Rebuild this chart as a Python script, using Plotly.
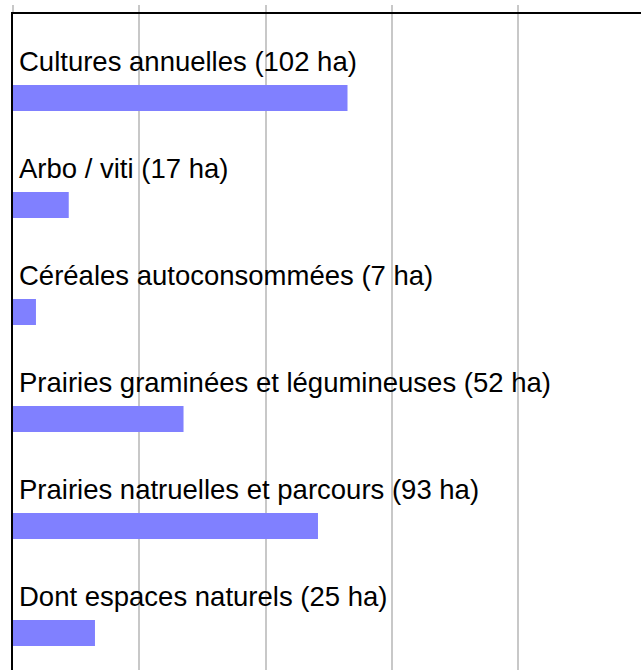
import plotly.graph_objects as go

categories = [
    "Cultures annuelles",
    "Arbo / viti",
    "Céréales autoconsommées",
    "Prairies graminées et légumineuses",
    "Prairies natruelles et parcours",
    "Dont espaces naturels",
]
values_ha = [102, 17, 7, 52, 93, 25]
unit = "ha"

labels = [f"{c} ({v} {unit})" for c, v in zip(categories, values_ha)]

fig = go.Figure()
fig.add_trace(go.Bar(
    x=values_ha,
    y=categories,
    orientation="h",
    width=0.243,
    marker=dict(color="#8080ff", line=dict(width=0)),
    hoverinfo="skip",
))

for c, lab in zip(categories, labels):
    fig.add_annotation(
        x=0, y=c, xref="x", yref="y",
        text=lab, showarrow=False,
        xanchor="left", yanchor="middle",
        xshift=4, yshift=36,
        font=dict(family="Liberation Sans, Arial, sans-serif", size=27.5, color="black"),
    )

fig.update_layout(
    width=641, height=670,
    margin=dict(l=13, r=0, t=14, b=0),
    paper_bgcolor="white", plot_bgcolor="white",
    showlegend=False,
    xaxis=dict(
        side="top", range=[0, 191.5], tick0=0, dtick=38.5,
        showticklabels=False, showgrid=True, gridcolor="#c8c8c8", gridwidth=1.5,
        zeroline=False, showline=True, linecolor="black", linewidth=2,
        ticks="outside", ticklen=7, tickcolor="#c8c8c8", tickwidth=1.5,
        fixedrange=True, automargin=False,
    ),
    yaxis=dict(
        type="category", autorange=False, range=[5.346, -0.785],
        showticklabels=False, showgrid=False, zeroline=False,
        showline=True, linecolor="black", linewidth=2, ticks="",
        fixedrange=True, automargin=False,
    ),
)

fig.write_html(
    "out.html",
    config={"displayModeBar": False},
    post_script="document.body.style.margin='0px';document.documentElement.style.overflow='hidden';document.body.style.overflow='hidden';",
)
